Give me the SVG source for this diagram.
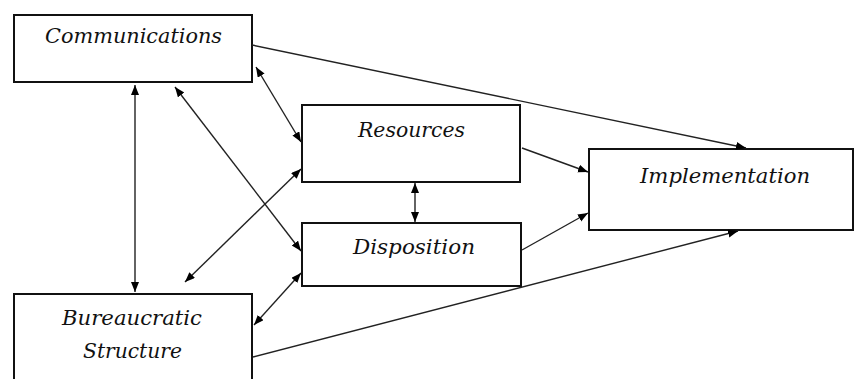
<svg xmlns="http://www.w3.org/2000/svg" width="854" height="379" viewBox="0 0 854 379">
<defs>
<style>
.box{fill:#fff;stroke:#111;stroke-width:2}
.lbl{font-family:"DejaVu Serif","Liberation Serif",serif;font-style:italic;font-size:20px;fill:#111}
.con{stroke:#222;stroke-width:1.4;fill:none}
</style>
<marker id="ah" markerUnits="userSpaceOnUse" markerWidth="12" markerHeight="10" refX="10" refY="4" orient="auto-start-reverse">
<path d="M0,0 L10,4 L0,8 z" fill="#000"/>
</marker>
</defs>
<rect width="854" height="379" fill="#fff"/>
<g id="communications">
<rect class="box" x="14" y="15" width="238" height="67"/>
<text class="lbl" x="45" y="43" textLength="177" lengthAdjust="spacingAndGlyphs">Communications</text>
</g>
<g id="resources">
<rect class="box" x="302" y="105" width="218" height="77"/>
<text class="lbl" x="358" y="137" textLength="107" lengthAdjust="spacingAndGlyphs">Resources</text>
</g>
<g id="disposition">
<rect class="box" x="302" y="223" width="219" height="63"/>
<text class="lbl" x="353" y="254" textLength="122" lengthAdjust="spacingAndGlyphs">Disposition</text>
</g>
<g id="implementation">
<rect class="box" x="589" y="149" width="264" height="81"/>
<text class="lbl" x="640" y="183" textLength="170" lengthAdjust="spacingAndGlyphs">Implementation</text>
</g>
<g id="bureaucratic">
<rect class="box" x="14" y="294" width="238" height="90"/>
<text class="lbl" x="62" y="325" textLength="140" lengthAdjust="spacingAndGlyphs">Bureaucratic</text>
<text class="lbl" x="83" y="358" textLength="99" lengthAdjust="spacingAndGlyphs">Structure</text>
</g>
<g id="connectors">
<line class="con" x1="135" y1="85" x2="135" y2="292" marker-start="url(#ah)" marker-end="url(#ah)"/>
<line class="con" x1="175" y1="87" x2="301" y2="251" marker-start="url(#ah)" marker-end="url(#ah)"/>
<line class="con" x1="256" y1="67" x2="301" y2="142" marker-start="url(#ah)" marker-end="url(#ah)"/>
<line class="con" x1="301" y1="169" x2="185" y2="282" marker-start="url(#ah)" marker-end="url(#ah)"/>
<line class="con" x1="301" y1="273" x2="254" y2="325" marker-start="url(#ah)" marker-end="url(#ah)"/>
<line class="con" x1="415" y1="183" x2="415" y2="222" marker-start="url(#ah)" marker-end="url(#ah)"/>
<line class="con" x1="522" y1="148" x2="588" y2="172" marker-end="url(#ah)"/>
<line class="con" x1="522" y1="250" x2="588" y2="213" marker-end="url(#ah)"/>
<line class="con" x1="252" y1="45" x2="746" y2="148" marker-end="url(#ah)"/>
<line class="con" x1="253" y1="357" x2="738" y2="231" marker-end="url(#ah)"/>
</g>
</svg>
